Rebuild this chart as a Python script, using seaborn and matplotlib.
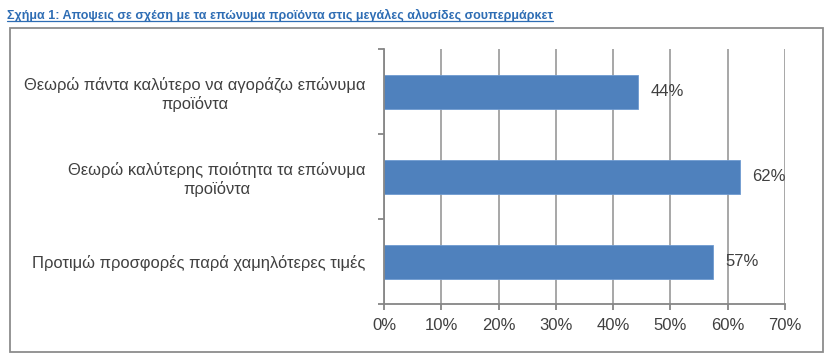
import numpy as np
import matplotlib.pyplot as plt
import matplotlib.patches as mpatches
import matplotlib.lines as mlines
import seaborn as sb
import pandas as pd

# DATA
#-----------------------
title = "Σχήμα 1: Αποψεις σε σχέση με τα επώνυμα προϊόντα στις μεγάλες αλυσίδες σουπερμάρκετ"
categories = ["Θεωρώ πάντα καλύτερο να αγοράζω επώνυμα\nπροϊόντα",
              "Θεωρώ καλύτερης ποιότητα τα επώνυμα\nπροϊόντα",
              "Προτιμώ προσφορές παρά χαμηλότερες τιμές"]
values = [44.4, 62.1, 57.4]
value_labels = ["44%", "62%", "57%"]
xticks = [0, 10, 20, 30, 40, 50, 60, 70]

bar_color = "#4F81BD"
text_color = "#404040"
grid_color = "#A0A0A0"

# PLOT
#-----------------------
sb.set_style("white")
plt.rcParams["font.family"] = ["Liberation Sans", "DejaVu Sans"]

df = pd.DataFrame({"cat": categories, "val": values})

fig = plt.figure(figsize=(8.32, 3.61), dpi=100)
ax = fig.add_axes([384/832, 1-304/361, (785-384)/832, (304-49)/361])

sb.barplot(data=df, x="val", y="cat", orient="h", color=bar_color,
           width=0.4, saturation=1, edgecolor="#6F9BD1", linewidth=0.6, ax=ax)

ax.bar_label(ax.containers[0], labels=value_labels, padding=9,
             fontsize=12, color=text_color)

ax.set_xlim(0, 70)
ax.set_ylim(2.5, -0.5)
ax.set_xticks(xticks)
ax.set_xticklabels([f"{t}%" for t in xticks])
ax.set_xlabel("")
ax.set_ylabel("")

# vertical gridlines only
ax.grid(axis="x", color=grid_color, linewidth=1.3)
ax.grid(axis="y", visible=False)
ax.set_axisbelow(True)

for s in ["top", "right"]:
    ax.spines[s].set_visible(False)
for s in ["left", "bottom"]:
    ax.spines[s].set_color("#868686")
    ax.spines[s].set_linewidth(1.3)

ax.tick_params(axis="x", length=4, width=1.3, color="#868686", pad=6,
               labelsize=12, labelcolor=text_color, direction="out", bottom=True)
ax.tick_params(axis="y", which="major", length=0, pad=13.5,
               labelsize=11.9, labelcolor=text_color)
ax.set_yticks([-0.5, 0.5, 1.5, 2.5], minor=True)
ax.tick_params(axis="y", which="minor", length=4, width=1.3, color="#868686",
               direction="out", left=True)
for lab in ax.get_yticklabels():
    lab.set_multialignment("center")

# outer frame
fig.add_artist(mpatches.Rectangle((10/832, 1-352/361), (823-10)/832, (352-28)/361,
                                  transform=fig.transFigure, fill=False,
                                  edgecolor="#8C8C8C", linewidth=1.3))

# title with underline
t = fig.text(7/832, 1-19/361, title, fontsize=9, fontweight="bold",
             color="#2E6DB4", va="baseline", ha="left")
fig.canvas.draw()
bb = t.get_window_extent().transformed(fig.transFigure.inverted())
uy = 1-21/361
fig.add_artist(mlines.Line2D([bb.x0, bb.x1], [uy, uy], transform=fig.transFigure,
                             color="#2E6DB4", linewidth=0.9))

plt.savefig("out.png", dpi=100)
